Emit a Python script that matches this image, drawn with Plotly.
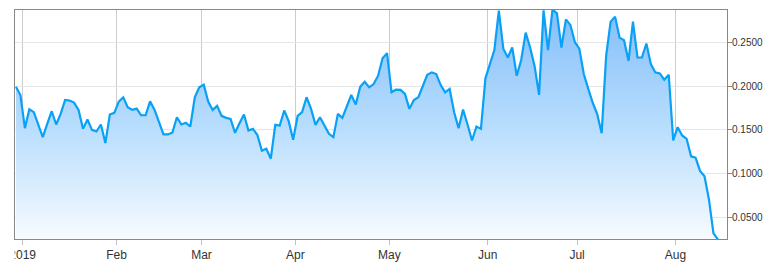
import pandas as pd
import plotly.graph_objects as go

# US trading days shown (ordinal axis: one slot per trading day)
holidays = ["2019-01-01", "2019-01-21", "2019-02-18", "2019-04-19", "2019-05-27", "2019-07-04"]
dates = pd.bdate_range("2018-12-28", "2019-08-14", freq="C", holidays=holidays)

values = [
    0.1994, 0.1899, 0.1519, 0.1736, 0.1702, 0.1561, 0.1416, 0.1569, 0.1713, 0.1561,
    0.1683, 0.1842, 0.1835, 0.1812, 0.1728, 0.1511, 0.1618, 0.1500, 0.1481, 0.1561,
    0.1348, 0.1675, 0.1694, 0.1823, 0.1873, 0.1759, 0.1728, 0.1743, 0.1667, 0.1667,
    0.1827, 0.1728, 0.1599, 0.1447, 0.1447, 0.1470, 0.1644, 0.1561, 0.1580, 0.1538,
    0.1873, 0.1987, 0.2017, 0.1823, 0.1728, 0.1774, 0.1660, 0.1637, 0.1626, 0.1466,
    0.1576, 0.1675, 0.1492, 0.1511, 0.1440, 0.1260, 0.1283, 0.1169, 0.1557, 0.1549,
    0.1721, 0.1599, 0.1386, 0.1660, 0.1702, 0.1873, 0.1740, 0.1557, 0.1644, 0.1549,
    0.1454, 0.1416, 0.1683, 0.1637, 0.1766, 0.1899, 0.1789, 0.1994, 0.2051, 0.1987,
    0.2025, 0.2120, 0.2321, 0.2379, 0.1930, 0.1960, 0.1957, 0.1911, 0.1740, 0.1842,
    0.1873, 0.2006, 0.2131, 0.2158, 0.2139, 0.2013, 0.1930, 0.1968, 0.1702, 0.1519,
    0.1732, 0.1561, 0.1378, 0.1538, 0.1511, 0.2090, 0.2253, 0.2413, 0.2865, 0.2430,
    0.2329, 0.2443, 0.2120, 0.2300, 0.2614, 0.2443, 0.2230, 0.1900, 0.2870, 0.2413,
    0.2880, 0.2835, 0.2443, 0.2766, 0.2702, 0.2505, 0.2430, 0.2140, 0.1970, 0.1810,
    0.1680, 0.1460, 0.2348, 0.2739, 0.2797, 0.2557, 0.2527, 0.2291, 0.2739, 0.2329,
    0.2329, 0.2489, 0.2253, 0.2158, 0.2146, 0.2074, 0.2131, 0.1378, 0.1530, 0.1435,
    0.1397, 0.1196, 0.1181, 0.1029, 0.0968, 0.0700, 0.0314, 0.0245,
]

month_labels = ["2019", "Feb", "Mar", "Apr", "May", "Jun", "Jul", "Aug"]
y_ticks = [0.05, 0.10, 0.15, 0.20, 0.25]

n = min(len(dates), len(values))
dates = dates[:n]
values = values[:n]
idx = list(range(n))

# month ticks: midnight before the first trading day of each month (between slots)
tick_pos = []
seen = set()
for i, d in enumerate(dates):
    key = (d.year, d.month)
    if d.year == 2019 and key not in seen:
        seen.add(key)
        tick_pos.append(i - 0.5)
tick_pos = tick_pos[:len(month_labels)]

y_min, y_max = 0.0249, 0.2873

fig = go.Figure()
fig.add_trace(go.Scatter(
    x=idx, y=values, mode="lines",
    line=dict(color="#09a1f5", width=2.2),
    fill="tozeroy",
    fillgradient=dict(type="vertical", start=y_min, stop=y_max,
                      colorscale=[[0, "rgb(247,251,255)"], [0.5, "rgb(183,221,253)"], [1, "rgb(133,190,250)"]]),
    hoverinfo="skip",
))

fig.add_shape(type="rect", xref="paper", yref="paper", x0=-0.03, x1=-0.0005, y0=-0.2, y1=-0.004,
              fillcolor="white", line=dict(width=0), layer="above")

fig.update_layout(
    width=775, height=274,
    margin=dict(l=12, r=48, t=9, b=35),
    paper_bgcolor="white", plot_bgcolor="white",
    showlegend=False,
    font=dict(family="Liberation Sans, Arial, sans-serif", color="#333333"),
)
fig.update_xaxes(
    range=[-0.21, 159.03],
    tickmode="array", tickvals=tick_pos, ticktext=month_labels,
    showgrid=True, gridcolor="#cccccc", gridwidth=1,
    ticks="outside", ticklen=5, tickcolor="#c0c0c0",
    showline=True, linecolor="#888888", linewidth=1, mirror=True,
    zeroline=False, tickfont=dict(size=12, color="#333333"),
)
fig.update_yaxes(
    side="right", range=[y_min, y_max],
    tickmode="array", tickvals=y_ticks, tickformat=".4f",
    showgrid=True, gridcolor="#e6e6e6", gridwidth=1,
    ticks="outside", ticklen=4, tickcolor="#888888",
    ticklabelstandoff=-2,
    showline=True, linecolor="#888888", linewidth=1, mirror=True,
    zeroline=False, tickfont=dict(size=10, color="#333333"),
)

fig.write_html("out.html", config={"displayModeBar": False})
